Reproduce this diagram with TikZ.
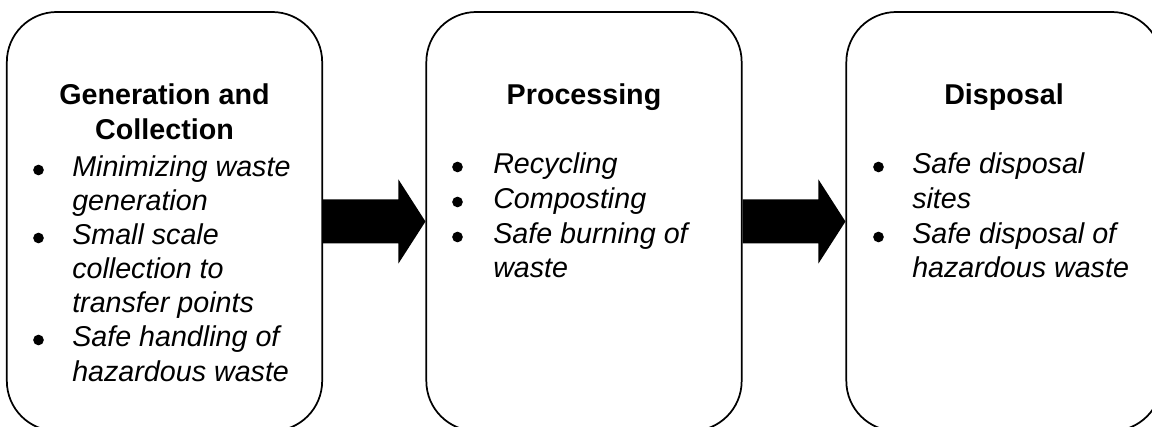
\documentclass[tikz,border=0pt]{standalone}
\usepackage{fontspec}
\setmainfont{Liberation Sans}
\usetikzlibrary{calc}
\tikzset{
  stagebox/.style={draw=black, line width=1.3pt, rounded corners=37.5pt, fill=none,
    minimum width=236.5pt, minimum height=314.25pt, inner sep=0pt},
  ttl/.style={anchor=base, inner sep=0pt, font=\fontsize{21.5pt}{26pt}\selectfont\bfseries},
  itm/.style={anchor=base west, inner sep=0pt, font=\fontsize{21.5pt}{26pt}\selectfont\itshape},
  dot/.style={circle, fill=black, draw=none, minimum size=8pt, inner sep=0pt},
  bigarrow/.style={fill=black, draw=none}
}
\begin{document}
\begin{tikzpicture}[x=0.75pt, y=-0.75pt]
\useasboundingbox (0,0) rectangle (1152,427);
\clip (0,0) rectangle (1152,427);
% boxes
\node[stagebox] (b1) at (164.5,221.5) {};
\node[stagebox] (b2) at (584,221.5) {};
\node[stagebox] (b3) at (1004,221.5) {};
% arrows
\fill[bigarrow] ($(b1.east)+(0,-22)$) -- ($(b2.west)+(-27,-22)$) -- ($(b2.west)+(-27,-42)$)
  -- (b2.west) -- ($(b2.west)+(-27,42)$) -- ($(b2.west)+(-27,22)$) -- ($(b1.east)+(0,22)$) -- cycle;
\fill[bigarrow] ($(b2.east)+(0,-22)$) -- ($(b3.west)+(-27,-22)$) -- ($(b3.west)+(-27,-42)$)
  -- (b3.west) -- ($(b3.west)+(-27,42)$) -- ($(b3.west)+(-27,22)$) -- ($(b2.east)+(0,22)$) -- cycle;
% box 1
\node[ttl] (t1a) at (164.5,105) {Generation and};
\node[ttl] (t1b) at (164.5,140) {Collection};
\node[dot] (d1a) at (38.5,170) {};
\node[itm] (i1a) at (72,177) {Minimizing waste};
\node[itm] (i1b) at (72,211) {generation};
\node[dot] (d1b) at (38.5,238) {};
\node[itm] (i1c) at (72,245) {Small scale};
\node[itm] (i1d) at (72,279) {collection to};
\node[itm] (i1e) at (72,313) {transfer points};
\node[dot] (d1c) at (38.5,340) {};
\node[itm] (i1f) at (72,347) {Safe handling of};
\node[itm] (i1g) at (72,381) {hazardous waste};
% box 2
\node[ttl] (t2a) at (584,105) {Processing};
\node[dot] (d2a) at (457.5,167) {};
\node[itm] (i2a) at (493,174) {Recycling};
\node[dot] (d2b) at (457.5,202) {};
\node[itm] (i2b) at (493,209) {Composting};
\node[dot] (d2c) at (457.5,237) {};
\node[itm] (i2c) at (493,244) {Safe burning of};
\node[itm] (i2d) at (493,278) {waste};
% box 3
\node[ttl] (t3a) at (1004,105) {Disposal};
\node[dot] (d3a) at (878.5,167) {};
\node[itm] (i3a) at (912,174) {Safe disposal};
\node[itm] (i3b) at (912,209) {sites};
\node[dot] (d3b) at (878.5,237) {};
\node[itm] (i3c) at (912,244) {Safe disposal of};
\node[itm] (i3d) at (912,278) {hazardous waste};
\end{tikzpicture}
\end{document}
